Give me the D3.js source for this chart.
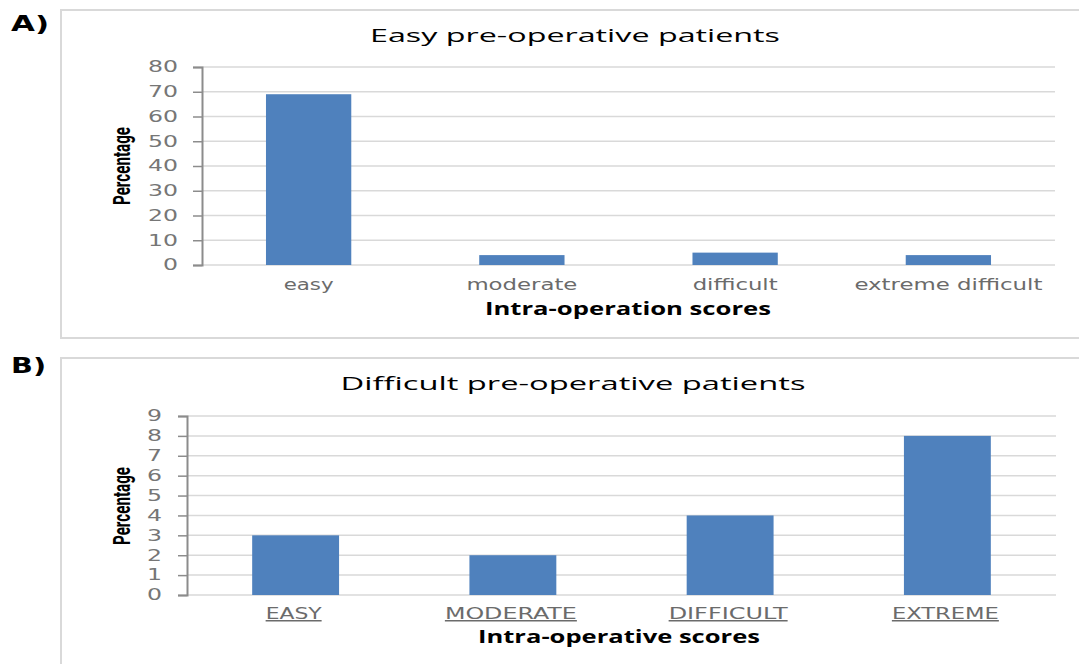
<!DOCTYPE html>
<html>
<head>
<meta charset="utf-8">
<script src="https://cdn.jsdelivr.net/npm/d3@7"></script>
<style>
  body { margin: 0; background: #fff; }
  text { font-family: "Open Sans", "DejaVu Sans", sans-serif; }
</style>
</head>
<body>
<div id="maViz"></div>
<script>
// donnees panneau A
const catsA = ["easy", "moderate", "difficult", "extreme difficult"];
const valsA = [69, 4, 5, 4];
const ticksA = [0, 10, 20, 30, 40, 50, 60, 70, 80];
const labelWidthA = [50, 111, 85, 188];

// donnees panneau B
const catsB = ["EASY", "MODERATE", "DIFFICULT", "EXTREME"];
const valsB = [3, 2, 4, 8];
const ticksB = [0, 1, 2, 3, 4, 5, 6, 7, 8, 9];
const labelWidthB = [56, 132, 119, 107];

const W = 1079, H = 664;
const barColor = "#4f81bd";

const svg = d3.select("#maViz").append("svg")
  .attr("width", W).attr("height", H);

// cadres
svg.append("rect").attr("x", 61).attr("y", 10).attr("width", 1040).attr("height", 328)
  .attr("fill", "none").attr("stroke", "#d9d9d9").attr("stroke-width", 2);
svg.append("rect").attr("x", 61).attr("y", 358).attr("width", 1040).attr("height", 340)
  .attr("fill", "none").attr("stroke", "#d9d9d9").attr("stroke-width", 2);

// lettres A) B)
svg.append("text").attr("x", 11).attr("y", 31).text("A)")
  .style("font-family", "DejaVu Sans").style("font-weight", "bold").style("font-size", "21px")
  .attr("textLength", 38).attr("lengthAdjust", "spacingAndGlyphs");
svg.append("text").attr("x", 11).attr("y", 373).text("B)")
  .style("font-family", "DejaVu Sans").style("font-weight", "bold").style("font-size", "21px")
  .attr("textLength", 35).attr("lengthAdjust", "spacingAndGlyphs");

function panel(cfg) {
  const x = d3.scaleBand()
    .domain(cfg.cats)
    .range([cfg.left, cfg.right])
    .paddingInner(0.6).paddingOuter(0.3);
  const y = d3.scaleLinear()
    .domain([0, d3.max(cfg.ticks)])
    .range([cfg.bottom, cfg.top]);

  const g = svg.append("g");

  // grille
  g.append("g").selectAll("line").data(cfg.ticks).join("line")
    .attr("x1", cfg.left).attr("x2", cfg.right)
    .attr("y1", d => y(d)).attr("y2", d => y(d))
    .attr("stroke", "#d9d9d9").attr("stroke-width", 1.5);

  // axe Y
  const ay = g.append("g")
    .attr("transform", `translate(${cfg.left},0)`)
    .call(d3.axisLeft(y).tickValues(cfg.ticks).tickSize(9).tickPadding(cfg.tickPad));
  ay.select(".domain").attr("stroke", "#8c8c8c").attr("stroke-width", 2);
  ay.selectAll(".tick line").attr("stroke", "#8c8c8c").attr("stroke-width", 1.5);
  ay.selectAll(".tick text")
    .attr("fill", "#767676")
    .style("font-family", "DejaVu Sans")
    .style("font-size", "15px")
    .attr("textLength", d => String(d).length * 15)
    .attr("lengthAdjust", "spacingAndGlyphs");

  // barres
  g.append("g").selectAll("rect").data(cfg.vals).join("rect")
    .attr("x", (d, i) => x(cfg.cats[i]))
    .attr("width", x.bandwidth())
    .attr("y", d => y(d))
    .attr("height", d => y(0) - y(d))
    .attr("fill", barColor);

  // etiquettes X
  g.append("g").selectAll("text").data(cfg.cats).join("text")
    .attr("x", d => x(d) + x.bandwidth() / 2 - cfg.labelShift)
    .attr("y", cfg.labelY)
    .attr("text-anchor", "middle")
    .attr("fill", "#6b6b6b")
    .style("font-family", "DejaVu Sans")
    .style("font-size", "15px")
    .style("text-decoration", cfg.underline ? "underline" : "none")
    .attr("textLength", (d, i) => cfg.labelWidths[i])
    .attr("lengthAdjust", "spacingAndGlyphs")
    .text(d => d);

  // titre
  g.append("text")
    .attr("x", cfg.titleX).attr("y", cfg.titleY)
    .attr("text-anchor", "middle")
    .style("font-size", "19px").attr("fill", "#000")
    .attr("textLength", cfg.titleW).attr("lengthAdjust", "spacingAndGlyphs")
    .text(cfg.title);

  // titre axe X
  g.append("text")
    .attr("x", cfg.xTitleX).attr("y", cfg.xTitleY)
    .attr("text-anchor", "middle")
    .style("font-size", "17px").style("font-weight", "bold").attr("fill", "#000")
    .attr("textLength", cfg.xTitleW).attr("lengthAdjust", "spacingAndGlyphs")
    .text(cfg.xTitle);

  // titre axe Y
  g.append("text")
    .attr("transform", `translate(130,${cfg.yTitleY}) rotate(-90)`)
    .attr("text-anchor", "middle")
    .style("font-family", "'Liberation Sans Narrow', 'Roboto', sans-serif")
    .style("font-size", "24px").style("font-weight", "bold").attr("fill", "#000")
    .attr("textLength", 78).attr("lengthAdjust", "spacingAndGlyphs")
    .text("Percentage");
}

panel({
  cats: catsA, vals: valsA, ticks: ticksA, labelWidths: labelWidthA,
  left: 202, right: 1055, top: 67, bottom: 265, tickPad: 15,
  labelY: 290, underline: false, labelShift: 0,
  title: "Easy pre-operative patients", titleX: 575, titleY: 42, titleW: 410,
  xTitle: "Intra-operation scores", xTitleX: 628, xTitleY: 315, xTitleW: 286,
  yTitleY: 166
});

panel({
  cats: catsB, vals: valsB, ticks: ticksB, labelWidths: labelWidthB,
  left: 187, right: 1056, top: 416, bottom: 595, tickPad: 16,
  labelY: 619, underline: true, labelShift: 2,
  title: "Difficult pre-operative patients", titleX: 573, titleY: 390, titleW: 465,
  xTitle: "Intra-operative scores", xTitleX: 619, xTitleY: 643, xTitleW: 282,
  yTitleY: 506
});
</script>
</body>
</html>
